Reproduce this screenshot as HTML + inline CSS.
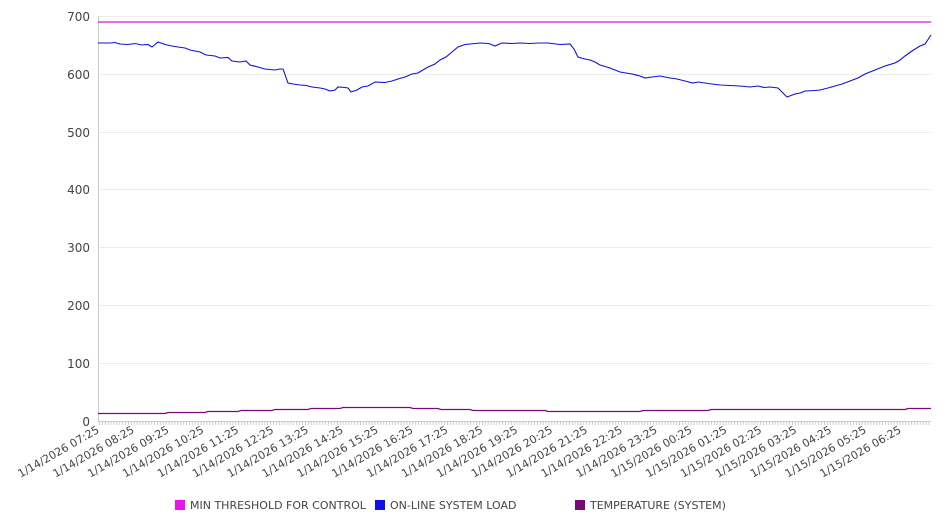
<!DOCTYPE html>
<html><head><meta charset="utf-8"><style>
html,body{margin:0;padding:0;background:#fff}
svg{display:block;font-family:"DejaVu Sans","Liberation Sans",sans-serif}
</style></head><body>
<svg width="946" height="526" viewBox="0 0 946 526" xmlns="http://www.w3.org/2000/svg">
<defs><pattern id="tk" x="99" y="0" width="2.9" height="10" patternUnits="userSpaceOnUse"><rect x="0" y="0" width="1" height="10" fill="#ccc"/></pattern></defs>
<g stroke="#ebebeb" stroke-width="1">
<line x1="98" x2="931" y1="16.5" y2="16.5"/>
<line x1="98" x2="931" y1="74.5" y2="74.5"/>
<line x1="98" x2="931" y1="132.5" y2="132.5"/>
<line x1="98" x2="931" y1="189.5" y2="189.5"/>
<line x1="98" x2="931" y1="247.5" y2="247.5"/>
<line x1="98" x2="931" y1="305.5" y2="305.5"/>
<line x1="98" x2="931" y1="363.5" y2="363.5"/>
</g>
<line x1="98.5" x2="98.5" y1="16" y2="421" stroke="#ccc"/>
<line x1="98" x2="931" y1="421.5" y2="421.5" stroke="#ccc"/>
<rect x="99" y="422" width="832" height="3" fill="url(#tk)"/>
<g font-size="12" fill="#444" text-anchor="end">
<text x="90" y="21">700</text><text x="90" y="79">600</text><text x="90" y="137">500</text>
<text x="90" y="194">400</text><text x="90" y="252">300</text><text x="90" y="310">200</text>
<text x="90" y="368">100</text><text x="90" y="426">0</text>
</g>
<g font-size="11" fill="#444" text-anchor="end">
<text transform="translate(100.0,432) rotate(-30)">1/14/2026 07:25</text>
<text transform="translate(134.9,432) rotate(-30)">1/14/2026 08:25</text>
<text transform="translate(169.7,432) rotate(-30)">1/14/2026 09:25</text>
<text transform="translate(204.6,432) rotate(-30)">1/14/2026 10:25</text>
<text transform="translate(239.5,432) rotate(-30)">1/14/2026 11:25</text>
<text transform="translate(274.4,432) rotate(-30)">1/14/2026 12:25</text>
<text transform="translate(309.2,432) rotate(-30)">1/14/2026 13:25</text>
<text transform="translate(344.1,432) rotate(-30)">1/14/2026 14:25</text>
<text transform="translate(379.0,432) rotate(-30)">1/14/2026 15:25</text>
<text transform="translate(413.8,432) rotate(-30)">1/14/2026 16:25</text>
<text transform="translate(448.7,432) rotate(-30)">1/14/2026 17:25</text>
<text transform="translate(483.6,432) rotate(-30)">1/14/2026 18:25</text>
<text transform="translate(518.4,432) rotate(-30)">1/14/2026 19:25</text>
<text transform="translate(553.3,432) rotate(-30)">1/14/2026 20:25</text>
<text transform="translate(588.2,432) rotate(-30)">1/14/2026 21:25</text>
<text transform="translate(623.1,432) rotate(-30)">1/14/2026 22:25</text>
<text transform="translate(657.9,432) rotate(-30)">1/14/2026 23:25</text>
<text transform="translate(692.8,432) rotate(-30)">1/15/2026 00:25</text>
<text transform="translate(727.7,432) rotate(-30)">1/15/2026 01:25</text>
<text transform="translate(762.5,432) rotate(-30)">1/15/2026 02:25</text>
<text transform="translate(797.4,432) rotate(-30)">1/15/2026 03:25</text>
<text transform="translate(832.3,432) rotate(-30)">1/15/2026 04:25</text>
<text transform="translate(867.1,432) rotate(-30)">1/15/2026 05:25</text>
<text transform="translate(902.0,432) rotate(-30)">1/15/2026 06:25</text>
</g>
<line x1="98" x2="931" y1="22" y2="22" stroke="#cc22cc" stroke-width="1.2"/>
<polyline fill="none" stroke="#1010dd" stroke-width="1.1" points="98,43 110,43 115,42.5 120,44 128,44.5 135,43.5 142,45 148,44.5 152,47 158,42 165,44.5 172,46 178,47 185,48 190,50 200,52 206,55 215,56 220,58 228,57.5 232,61 240,62 246,61 250,65 258,67 265,69 275,70 280,69 283,69 288,83 293,84 300,85 306,85.5 312,87 320,88 325,89 330,91 335,90 338,87 345,87.5 348,88 351,92 357,90 362,87 368,86 375,82 385,82.5 392,81 398,79 405,77 412,74 418,73 428,67 435,64 440,60 446,57 452,52 458,47 465,44.5 470,44 480,43 488,43.5 490,44 495,46 502,43 512,43.5 520,43 530,43.5 538,43 548,43 560,44.5 570,44 574,49 578,57 585,59 590,60 595,62 600,65 610,68 620,72 632,74 640,76 645,78 652,77 660,76 670,78 677,79 685,81 693,83 698,82 705,83 712,84 720,85 730,85.5 740,86 750,87 758,86 764,87.5 770,87 778,88 782,92 787,97 795,94 800,93 805,91 815,90.5 820,90 828,88 835,86 842,84 850,81 858,78 865,74 875,70 885,66 895,63 900,60 905,56 912,51 920,46 925,44 931,35"/>
<polyline fill="none" stroke="#7a0a7a" stroke-width="1.2" points="98,413.5 165,413.5 168,412.5 205,412.5 208,411.5 238,411.5 241,410.5 272,410.5 275,409.5 308,409.5 311,408.5 340,408.5 343,407.5 410,407.5 413,408.5 438,408.5 441,409.5 470,409.5 473,410.5 545,410.5 548,411.5 640,411.5 643,410.5 708,410.5 711,409.5 905,409.5 908,408.5 931,408.5"/>
<g font-size="11" fill="#444">
<rect x="175" y="500" width="10" height="10" fill="#ee11ee"/><text x="190" y="509">MIN THRESHOLD FOR CONTROL</text>
<rect x="375" y="500" width="10" height="10" fill="#1010ee"/><text x="390" y="509">ON-LINE SYSTEM LOAD</text>
<rect x="575" y="500" width="10" height="10" fill="#7a0a7a"/><text x="590" y="509">TEMPERATURE (SYSTEM)</text>
</g>
</svg>
</body></html>
